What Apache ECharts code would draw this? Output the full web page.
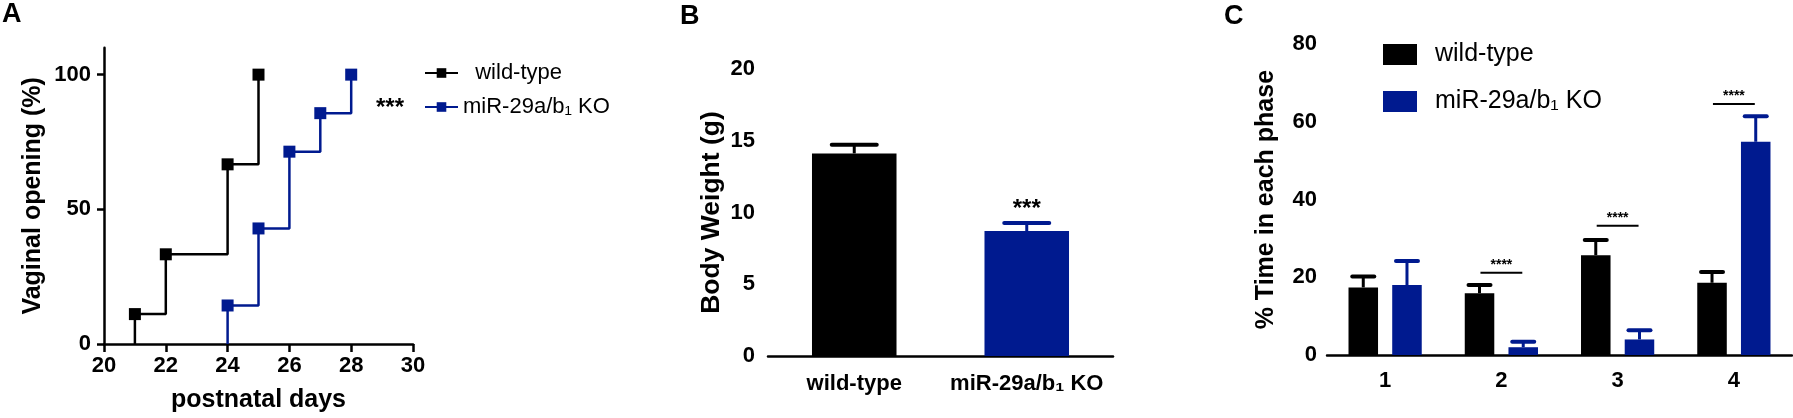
<!DOCTYPE html>
<html>
<head>
<meta charset="utf-8">
<script src="https://cdn.jsdelivr.net/npm/echarts@6/dist/echarts.min.js"></script>
<style>
html, body { margin: 0; padding: 0; background: #fff; }
#main { width: 1793px; height: 418px; }
</style>
</head>
<body>
<div id="main"></div>
<script>
var groups = ['wild-type', 'miR-29a/b\u2081 KO'];

// A: cumulative vaginal opening (%) by postnatal day
var wtDays = [21, 21, 22, 24, 25];
var wtOpen = [0, 11.1, 33.3, 66.7, 100];
var koDays = [24, 24, 25, 26, 27, 28];
var koOpen = [0, 14.3, 42.9, 71.4, 85.7, 100];
var dayTicks = [20, 30, 2];
var openTicks = [0, 50, 100];

// B: body weight (g), mean and SEM
var weight = [14.12, 8.71];
var weightSem = [0.6, 0.55];
var weightStars = ['', '***'];

// C: % time in each phase, mean and SEM
var phases = ['1', '2', '3', '4'];
var wtPhase = [17.4, 15.9, 25.7, 18.6];
var wtPhaseSem = [2.8, 2.1, 3.9, 2.8];
var koPhase = [18.0, 2.0, 4.0, 54.9];
var koPhaseSem = [6.2, 1.4, 2.4, 6.6];
var sigPhase = [1, 2, 3];
var sigLevel = [21.2, 33.3, 64.6];
var sigText = ['****', '****', '****'];

var BLACK = '#000000';
var BLUE = '#001a8f';
var FONT = 'Liberation Sans, Arial, sans-serif';
var TICK_FS = 22;

var chart = echarts.init(document.getElementById('main'));

function axisBase(tickLen, margin) {
    return {
        axisLine: { lineStyle: { color: BLACK, width: 2.5 } },
        axisTick: { length: tickLen, lineStyle: { color: BLACK, width: 2.5 } },
        axisLabel: { color: BLACK, fontSize: TICK_FS, fontWeight: 'bold', fontFamily: FONT, margin: margin },
        splitLine: { show: false },
        nameTextStyle: { color: BLACK, fontSize: 25, fontWeight: 'bold', fontFamily: FONT }
    };
}

function withBase(base, extra) {
    return Object.assign({}, base, extra);
}

// upper error bars drawn at bar centres (offset is a fraction of the category width)
function errorBar(offset, colors, capW, stars) {
    return function (params, api) {
        var i = params.dataIndex;
        var base = api.coord([api.value(0), api.value(1)]);
        var top = api.coord([api.value(0), api.value(1) + api.value(2)]);
        var x = base[0] + offset * api.size([1, 0])[0];
        var color = colors[i % colors.length];
        var children = [
            { type: 'line', shape: { x1: x, y1: base[1], x2: x, y2: top[1] },
              style: { stroke: color, lineWidth: 3 } },
            { type: 'line', shape: { x1: x - capW / 2, y1: top[1], x2: x + capW / 2, y2: top[1] },
              style: { stroke: color, lineWidth: 4, lineCap: 'round' } }
        ];
        if (stars && stars[i]) {
            children.push({ type: 'text', style: { text: stars[i], x: x, y: top[1] - 14,
                align: 'center', verticalAlign: 'middle', fontSize: 24, fontWeight: 'bold',
                fontFamily: FONT, fill: BLACK } });
        }
        return { type: 'group', children: children };
    };
}

function sigBracket(params, api) {
    var p = api.coord([api.value(0), api.value(1)]);
    var half = 0.18 * api.size([1, 0])[0];
    return { type: 'group', children: [
        { type: 'line', shape: { x1: p[0] - half, y1: p[1], x2: p[0] + half, y2: p[1] },
          style: { stroke: BLACK, lineWidth: 2 } },
        { type: 'text', style: { text: sigText[params.dataIndex], x: p[0], y: p[1] - 8,
          align: 'center', verticalAlign: 'middle', fontSize: 14, fontWeight: 'bold',
          fontFamily: FONT, fill: BLACK } }
    ] };
}

function stepData(days, vals) {
    return days.map(function (d, i) {
        return i === 0 ? { value: [d, vals[i]], symbol: 'none' } : [d, vals[i]];
    });
}

var option = {
    animation: false,
    textStyle: { fontFamily: FONT },
    graphic: [
        { type: 'text', left: 2, top: 1, style: { text: 'A', fontSize: 27, fontWeight: 'bold', fontFamily: FONT, fill: BLACK } },
        { type: 'text', left: 680, top: 3, style: { text: 'B', fontSize: 27, fontWeight: 'bold', fontFamily: FONT, fill: BLACK } },
        { type: 'text', left: 1224, top: 3, style: { text: 'C', fontSize: 27, fontWeight: 'bold', fontFamily: FONT, fill: BLACK } },
        { type: 'text', x: 390, y: 108, style: { text: '***', align: 'center', verticalAlign: 'middle', fontSize: 24, fontWeight: 'bold', fontFamily: FONT, fill: BLACK } }
    ],
    legend: [
        {
            data: groups,
            orient: 'vertical',
            left: 419, top: 57,
            itemWidth: 33, itemHeight: 12, itemGap: 12,
            textStyle: { fontSize: 22, color: BLACK, fontFamily: FONT },
            formatter: function (name) { return name === groups[0] ? '  ' + name : name; },
            selectedMode: false
        },
        {
            data: groups,
            orient: 'vertical',
            icon: 'rect',
            left: 1378, top: 37,
            itemWidth: 34, itemHeight: 21, itemGap: 22,
            textStyle: { fontSize: 25, color: BLACK, fontFamily: FONT, padding: [0, 0, 0, 13] },
            selectedMode: false
        }
    ],
    grid: [
        { left: 104, right: 1380, top: 47.7, bottom: 71.3 },
        { left: 768, right: 680, top: 69, bottom: 62 },
        { left: 1327, right: 1, top: 44.3, bottom: 63 }
    ],
    xAxis: [
        withBase(axisBase(8, 11), {
            gridIndex: 0, type: 'value', min: dayTicks[0], max: dayTicks[1], interval: dayTicks[2],
            name: 'postnatal days', nameLocation: 'middle', nameGap: 44
        }),
        withBase(axisBase(5, 17), {
            gridIndex: 1, type: 'category', data: groups,
            axisTick: { length: 5, alignWithLabel: true, lineStyle: { color: BLACK, width: 2.5 } },
            axisLabel: { color: BLACK, fontSize: TICK_FS, fontWeight: 'bold', fontFamily: FONT, margin: 17, interval: 0 }
        }),
        withBase(axisBase(7, 15), {
            gridIndex: 2, type: 'category', data: phases,
            axisTick: { length: 7, alignWithLabel: true, lineStyle: { color: BLACK, width: 2.5 } }
        })
    ],
    yAxis: [
        withBase(axisBase(7, 13), {
            gridIndex: 0, type: 'value', min: 0, max: 110,
            axisTick: { length: 7, customValues: openTicks, lineStyle: { color: BLACK, width: 2.5 } },
            axisLabel: { color: BLACK, fontSize: TICK_FS, fontWeight: 'bold', fontFamily: FONT, margin: 13, customValues: openTicks },
            name: 'Vaginal opening (%)', nameLocation: 'middle', nameGap: 58
        }),
        withBase(axisBase(7, 13), {
            gridIndex: 1, type: 'value', min: 0, max: 20, interval: 5,
            name: 'Body Weight (g)', nameLocation: 'middle', nameGap: 43,
            nameTextStyle: { color: BLACK, fontSize: 26.5, fontWeight: 'bold', fontFamily: FONT }
        }),
        withBase(axisBase(7, 10), {
            gridIndex: 2, type: 'value', min: 0, max: 80, interval: 20,
            name: '% Time in each phase', nameLocation: 'middle', nameGap: 48
        })
    ],
    series: [
        {
            name: groups[0], type: 'line', xAxisIndex: 0, yAxisIndex: 0,
            step: 'end', data: stepData(wtDays, wtOpen),
            symbol: 'rect', symbolSize: 12, color: BLACK,
            lineStyle: { color: BLACK, width: 2.5 }, itemStyle: { color: BLACK }
        },
        {
            name: groups[1], type: 'line', xAxisIndex: 0, yAxisIndex: 0,
            step: 'end', data: stepData(koDays, koOpen),
            symbol: 'rect', symbolSize: 12, color: BLUE,
            lineStyle: { color: BLUE, width: 2.5 }, itemStyle: { color: BLUE }
        },
        {
            name: 'Body Weight', type: 'bar', xAxisIndex: 1, yAxisIndex: 1,
            barWidth: '49%',
            data: weight.map(function (v, i) {
                return { value: v, itemStyle: { color: i === 0 ? BLACK : BLUE } };
            })
        },
        {
            type: 'custom', xAxisIndex: 1, yAxisIndex: 1, z: 5,
            renderItem: errorBar(0, [BLACK, BLUE], 45, weightStars),
            data: weight.map(function (v, i) { return [i, v, weightSem[i]]; })
        },
        {
            name: groups[0], type: 'bar', xAxisIndex: 2, yAxisIndex: 2,
            barWidth: '25.4%', barGap: '48%', color: BLACK, data: wtPhase
        },
        {
            name: groups[1], type: 'bar', xAxisIndex: 2, yAxisIndex: 2,
            barWidth: '25.4%', barGap: '48%', color: BLUE, data: koPhase
        },
        {
            type: 'custom', xAxisIndex: 2, yAxisIndex: 2, z: 5,
            renderItem: errorBar(-0.188, [BLACK], 22),
            data: wtPhase.map(function (v, i) { return [i, v, wtPhaseSem[i]]; })
        },
        {
            type: 'custom', xAxisIndex: 2, yAxisIndex: 2, z: 5,
            renderItem: errorBar(0.188, [BLUE], 22),
            data: koPhase.map(function (v, i) { return [i, v, koPhaseSem[i]]; })
        },
        {
            type: 'custom', xAxisIndex: 2, yAxisIndex: 2, z: 5,
            renderItem: sigBracket,
            data: sigPhase.map(function (p, i) { return [p, sigLevel[i]]; })
        }
    ]
};

option && chart.setOption(option);

window.addEventListener('resize', function () {
    chart.resize();
});
</script>
</body>
</html>
